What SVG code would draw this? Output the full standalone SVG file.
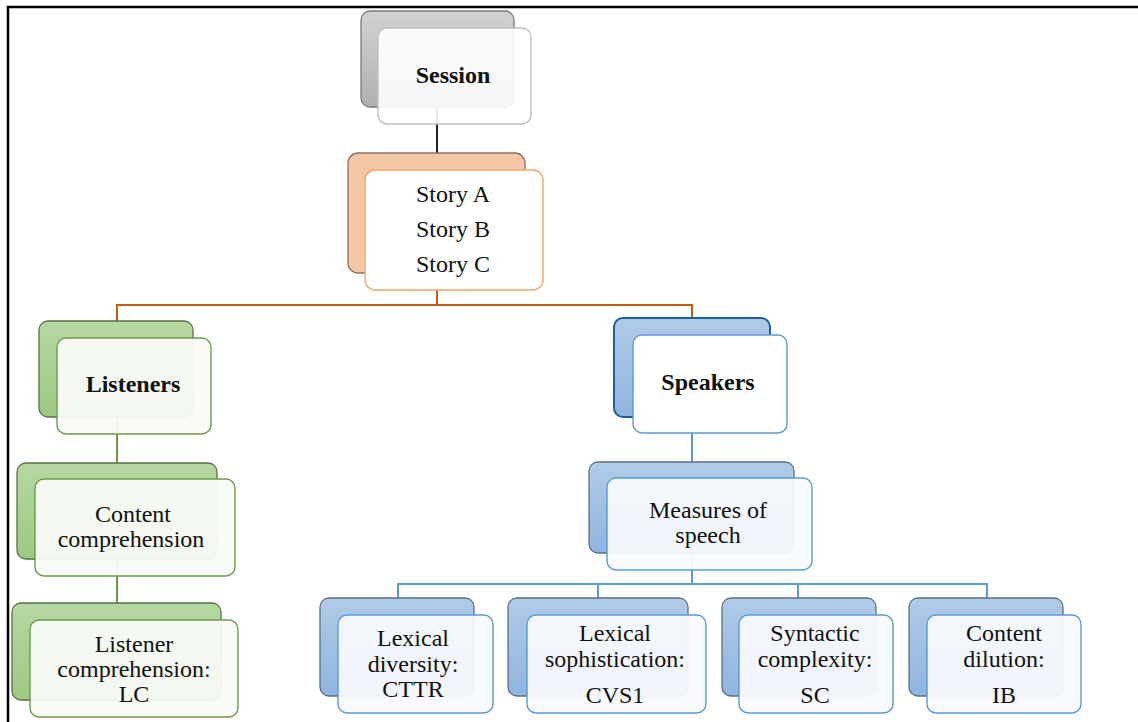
<svg xmlns="http://www.w3.org/2000/svg" width="1138" height="722" viewBox="0 0 1138 722">
<defs>
<linearGradient id="gGray" x1="0" y1="0" x2="0" y2="1"><stop offset="0" stop-color="#d2d2d2"/><stop offset="1" stop-color="#b0b0b0"/></linearGradient>
<linearGradient id="gGreen" x1="0" y1="0" x2="0" y2="1"><stop offset="0" stop-color="#b6d8a2"/><stop offset="1" stop-color="#9cc983"/></linearGradient>
<linearGradient id="gBlue" x1="0" y1="0" x2="0" y2="1"><stop offset="0" stop-color="#b1cbe8"/><stop offset="1" stop-color="#8fb5df"/></linearGradient>
</defs>
<style>
text{font-family:"Liberation Serif","Times New Roman",serif;font-size:24px;fill:#111;text-anchor:middle}
.b{font-weight:bold}
.bk{stroke-width:1.3}
.gray{fill:url(#gGray);stroke:#7a7a7a}
.peach{fill:#f4c8a6;stroke:#8a7060}
.green{fill:url(#gGreen);stroke:#5a7048}
.blue{fill:url(#gBlue);stroke:#5d6f82}
.fr{stroke-width:1.4}
.fgray{fill:#ffffff;fill-opacity:0.9;stroke:#c0c0c0}
.fpeach{fill:#ffffff;stroke:#f3a669}
.fgreen{fill:#f9fbf7;fill-opacity:0.94;stroke:#6f9a4e}
.fblue{fill:#f8fafd;fill-opacity:0.94;stroke:#5b9bd5}
.c{fill:none;stroke-width:2}
</style>
<g id="frame" stroke="#000" stroke-width="2.5" fill="none"><path d="M8 722 V7 H1138"/></g>
<g id="connectors">
<path class="c" stroke="#222" d="M437 107 V153"/>
<path class="c" stroke="#c55a11" d="M437 273 V305 M117 321 V305 H692 V318"/>
<path class="c" stroke="#6a9a40" d="M117 417 V463 M117 559 V603"/>
<path class="c" stroke="#5b9bd5" d="M692 417 V462 M692 553 V584 M398 598 V584 H987 V598 M598 584 V598 M798 584 V598"/>
</g>
<g id="session">
<rect class="gray bk" x="361" y="11" width="153" height="96" rx="9"/>
<rect class="fgray fr" x="378" y="28" width="153" height="96" rx="9"/>
<text class="b" x="453" y="83">Session</text>
</g>
<g id="stories">
<rect class="peach bk" x="348" y="153" width="177" height="120" rx="10"/>
<rect class="fpeach fr" x="365" y="170" width="178" height="120" rx="10"/>
<text x="453" y="202">Story A</text>
<text x="453" y="237">Story B</text>
<text x="453" y="272">Story C</text>
</g>
<g id="listeners">
<rect class="green bk" x="39" y="321" width="154" height="96" rx="9"/>
<rect class="fgreen fr" x="57" y="338" width="154" height="96" rx="9"/>
<text class="b" x="133" y="392">Listeners</text>
</g>
<g id="content-comprehension">
<rect class="green bk" x="17" y="463" width="200" height="96" rx="9"/>
<rect class="fgreen fr" x="35" y="479" width="200" height="97" rx="9"/>
<text x="133" y="522">Content</text>
<text x="131" y="547">comprehension</text>
</g>
<g id="listener-comprehension">
<rect class="green bk" x="12" y="603" width="209" height="97" rx="9"/>
<rect class="fgreen fr" x="30" y="620" width="208" height="97" rx="9"/>
<text x="134" y="652">Listener</text>
<text x="134" y="677">comprehension:</text>
<text x="134" y="702">LC</text>
</g>
<g id="speakers">
<rect x="614" y="318" width="156" height="99" rx="9" fill="url(#gBlue)" stroke="#1f5f9e" stroke-width="2"/>
<rect fill="#ffffff" stroke="#5b9bd5" class="fr" x="633" y="335" width="154" height="98" rx="9"/>
<text class="b" x="708" y="390">Speakers</text>
</g>
<g id="measures">
<rect class="blue bk" x="589" y="462" width="205" height="91" rx="9"/>
<rect class="fblue fr" x="607" y="478" width="205" height="92" rx="9"/>
<text x="708" y="518">Measures of</text>
<text x="708" y="543">speech</text>
</g>
<g id="lexical-diversity">
<rect class="blue bk" x="320" y="598" width="154" height="98" rx="9"/>
<rect class="fblue fr" x="338" y="615" width="155" height="98" rx="9"/>
<text x="413" y="646">Lexical</text>
<text x="413" y="672">diversity:</text>
<text x="413" y="697">CTTR</text>
</g>
<g id="lexical-sophistication">
<rect class="blue bk" x="508" y="598" width="180" height="98" rx="9"/>
<rect class="fblue fr" x="527" y="615" width="179" height="98" rx="9"/>
<text x="615" y="641">Lexical</text>
<text x="615" y="667">sophistication:</text>
<text x="615" y="703">CVS1</text>
</g>
<g id="syntactic-complexity">
<rect class="blue bk" x="722" y="598" width="154" height="98" rx="9"/>
<rect class="fblue fr" x="739" y="615" width="154" height="98" rx="9"/>
<text x="815" y="641">Syntactic</text>
<text x="815" y="667">complexity:</text>
<text x="815" y="703">SC</text>
</g>
<g id="content-dilution">
<rect class="blue bk" x="909" y="598" width="154" height="98" rx="9"/>
<rect class="fblue fr" x="927" y="615" width="154" height="98" rx="9"/>
<text x="1004" y="641">Content</text>
<text x="1004" y="667">dilution:</text>
<text x="1004" y="703">IB</text>
</g>
</svg>
